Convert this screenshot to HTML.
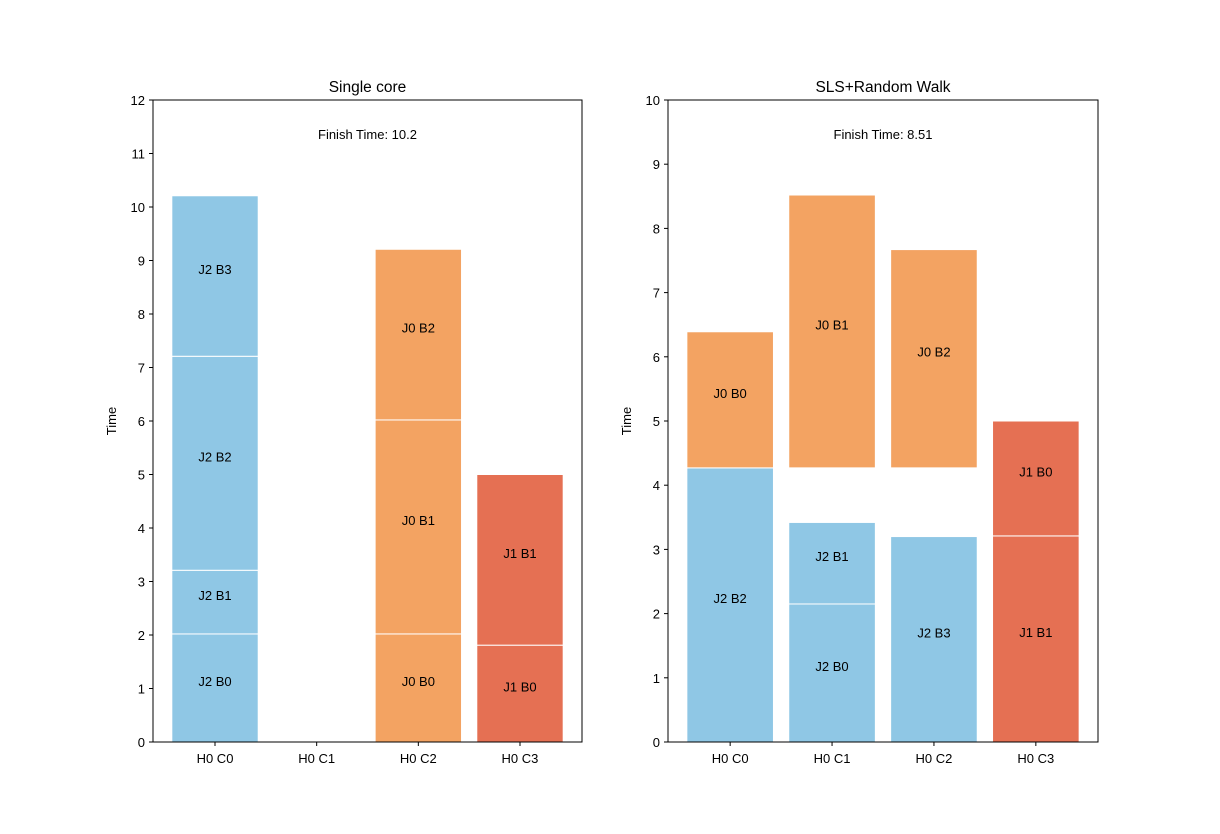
<!DOCTYPE html>
<html><head><meta charset="utf-8"><style>
body{margin:0;background:#fff;}
svg{display:block;font-family:"Liberation Sans","DejaVu Sans",sans-serif;}
</style></head><body>
<svg id="chart" width="1220" height="834" viewBox="0 0 1220 834" xmlns="http://www.w3.org/2000/svg"></svg>
<script>
const categories = ["H0 C0","H0 C1","H0 C2","H0 C3"];
const colors = {J0:"#f3a362", J1:"#e57053", J2:"#8fc7e5"};
// Single core: [category index, start, end, job, block]
const leftSegments = [
  [0,0,2.02,"J2","B0"],[0,2.02,3.21,"J2","B1"],[0,3.21,7.21,"J2","B2"],[0,7.21,10.21,"J2","B3"],
  [2,0,2.02,"J0","B0"],[2,2.02,6.02,"J0","B1"],[2,6.02,9.21,"J0","B2"],
  [3,0,1.81,"J1","B0"],[3,1.81,5.0,"J1","B1"]
];
const rightSegments = [
  [0,0,4.27,"J2","B2"],[0,4.27,6.39,"J0","B0"],
  [1,0,2.15,"J2","B0"],[1,2.15,3.42,"J2","B1"],[1,4.27,8.52,"J0","B1"],
  [2,0,3.2,"J2","B3"],[2,4.27,7.67,"J0","B2"],
  [3,0,3.21,"J1","B1"],[3,3.21,5.0,"J1","B0"]
];
const leftTicks = [0,1,2,3,4,5,6,7,8,9,10,11,12];
const rightTicks = [0,1,2,3,4,5,6,7,8,9,10];
const titles = ["Single core","SLS+Random Walk"];
const finishTimes = ["10.2","8.51"];

const svg = document.getElementById('chart');
const NS = "http://www.w3.org/2000/svg";
function mk(tag, attrs, parent){
  const e = document.createElementNS(NS, tag);
  for (const k in attrs) e.setAttribute(k, attrs[k]);
  (parent||svg).appendChild(e); return e;
}
function panel(x0, x1, ymax, ticks, segs, title, finish, idx){
  const y0 = 100, y1 = 742;
  const g = mk('g', {});
  
  
  const xs = v => x0 + (v + 0.61) / 4.22 * (x1 - x0);
  const ys = v => y1 - v / ymax * (y1 - y0);
  const bw = 0.85 / 4.22 * (x1 - x0);
  segs.forEach(s => {
    const r = mk('rect', {x: xs(s[0]) - bw/2, y: ys(s[2]), width: bw, height: ys(s[1]) - ys(s[2]), fill: colors[s[3]], stroke: '#fff', 'stroke-width': 1}, g);
    
    
    const t = mk('text', {x: xs(s[0]), y: ys((s[1]+s[2])/2) - 2, 'text-anchor': 'middle', 'font-size': 13, fill: '#000'}, g);
    t.textContent = s[3] + ' ' + s[4];
    
    
  });
  const fr = mk('rect', {x: x0, y: y0, width: x1 - x0, height: y1 - y0, fill: 'none', stroke: '#000', 'stroke-width': 1}, g);
  
  
  ticks.forEach(v => {
    mk('line', {x1: x0 - 4, x2: x0, y1: ys(v), y2: ys(v), stroke: '#000'}, g);
    const t = mk('text', {x: x0 - 8, y: ys(v) + 5, 'text-anchor': 'end', 'font-size': 13}, g);
    t.textContent = v;
    
    
  });
  categories.forEach((c, i) => {
    mk('line', {x1: xs(i), x2: xs(i), y1: y1, y2: y1 + 4, stroke: '#000'}, g);
    const t = mk('text', {x: xs(i), y: y1 + 21, 'text-anchor': 'middle', 'font-size': 13}, g);
    t.textContent = c;
    
    
  });
  const tt = mk('text', {x: (x0+x1)/2, y: 92, 'text-anchor': 'middle', 'font-size': 15.5}, g);
  tt.textContent = title;
  
  
  const ft = mk('text', {x: (x0+x1)/2, y: 139, 'text-anchor': 'middle', 'font-size': 13}, g);
  ft.textContent = 'Finish Time: ' + finish;
  
  
  const yl = mk('text', {x: 0, y: 0, 'text-anchor': 'middle', 'font-size': 13, transform: 'translate(' + (x0 - 37) + ',' + ((y0+y1)/2) + ') rotate(-90)'}, g);
  yl.textContent = 'Time';
  
  
}
panel(153, 582, 12, leftTicks, leftSegments, titles[0], finishTimes[0], 'left');
panel(668, 1098, 10, rightTicks, rightSegments, titles[1], finishTimes[1], 'right');
</script>
</body></html>
